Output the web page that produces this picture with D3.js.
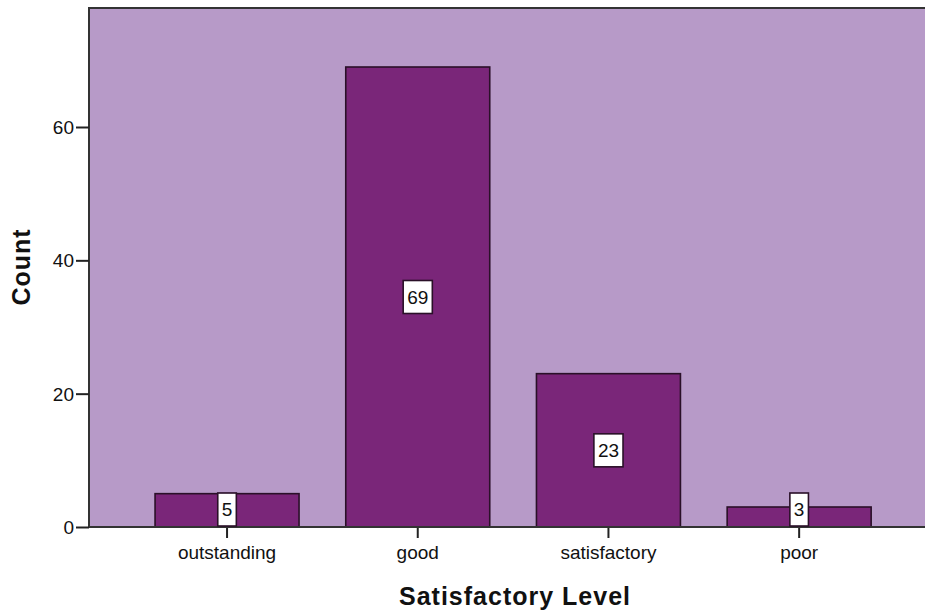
<!DOCTYPE html>
<html>
<head>
<meta charset="utf-8">
<script src="https://cdn.jsdelivr.net/npm/d3@7"></script>
<style>
  html, body { margin: 0; padding: 0; background: #fff; }
  svg { display: block; }
  text { font-family: Arial, "Liberation Sans", sans-serif; fill: #111; }
</style>
</head>
<body>
<svg id="chart" width="925" height="613"></svg>
<script>
// Satisfaction level counts
const categories = ["outstanding", "good", "satisfactory", "poor"];
const counts = [5, 69, 23, 3];
const yTicks = [0, 20, 40, 60];
const xTitle = "Satisfactory Level";
const yTitle = "Count";

const W = 925, H = 613;
const plot = { left: 89, top: 8, right: 940, bottom: 527 };
const yMax = 77.85;

const svg = d3.select("#chart");

const x = d3.scaleBand()
  .domain(categories)
  .range([131.7, 894.5])
  .paddingInner(0.245)
  .paddingOuter(0.1225);

const y = d3.scaleLinear()
  .domain([0, yMax])
  .range([plot.bottom, plot.top]);

// plot background
svg.append("rect")
  .attr("x", plot.left).attr("y", plot.top)
  .attr("width", plot.right - plot.left).attr("height", plot.bottom - plot.top)
  .attr("fill", "#b79ac8");

// bars
svg.append("g").selectAll("rect")
  .data(counts)
  .join("rect")
  .attr("x", (d, i) => x(categories[i]))
  .attr("y", d => y(d))
  .attr("width", x.bandwidth())
  .attr("height", d => y(0) - y(d))
  .attr("fill", "#7a2679")
  .attr("stroke", "#2a1028")
  .attr("stroke-width", 1.6);

// frame: top and left edges
svg.append("path")
  .attr("d", `M${plot.left},${plot.bottom}V${plot.top}H${W + 5}`)
  .attr("fill", "none")
  .attr("stroke", "#333")
  .attr("stroke-width", 2);

// y axis
const yAxis = d3.axisLeft(y).tickValues(yTicks).tickSize(13).tickPadding(2).tickFormat(d3.format("d"));
const gy = svg.append("g").attr("transform", `translate(${plot.left},0)`).call(yAxis);
gy.select(".domain").remove();
gy.selectAll(".tick line").attr("stroke", "#222").attr("stroke-width", 2);
gy.selectAll(".tick text").style("font-size", "19px").attr("fill", "#111").attr("dy", "0.35em");

// x axis
const xAxis = d3.axisBottom(x).tickSize(11).tickPadding(8);
const gx = svg.append("g").attr("transform", `translate(0,${plot.bottom})`).call(xAxis);
gx.select(".domain").remove();
gx.selectAll(".tick line").attr("stroke", "#222").attr("stroke-width", 2);
gx.selectAll(".tick text").style("font-size", "19px").attr("fill", "#111");

// baseline
svg.append("line")
  .attr("x1", plot.left).attr("x2", W + 5)
  .attr("y1", plot.bottom).attr("y2", plot.bottom)
  .attr("stroke", "#333").attr("stroke-width", 2);

// value labels
const labelH = 33;
const lg = svg.append("g");
counts.forEach((d, i) => {
  const cx = x(categories[i]) + x.bandwidth() / 2;
  let cy = (y(d) + y(0)) / 2;
  cy = Math.min(cy, plot.bottom - 1 - labelH / 2);
  const t = lg.append("text")
    .attr("x", cx).attr("y", cy)
    .attr("text-anchor", "middle")
    .attr("dy", "0.36em")
    .style("font-size", "19px")
    .text(d);
  const w = t.node().getComputedTextLength() + 8;
  lg.insert("rect", "text")
    .attr("x", cx - w / 2).attr("y", cy - labelH / 2)
    .attr("width", w).attr("height", labelH)
    .attr("fill", "#fff")
    .attr("stroke", "#2a1028")
    .attr("stroke-width", 1.6);
});

// axis titles
svg.append("text")
  .attr("x", 515).attr("y", 605)
  .attr("text-anchor", "middle")
  .style("font-size", "25px").style("font-weight", "bold").style("letter-spacing", "1px")
  .text(xTitle);

svg.append("text")
  .attr("transform", "translate(30,267) rotate(-90)")
  .attr("text-anchor", "middle")
  .style("font-size", "25px").style("font-weight", "bold").style("letter-spacing", "1px")
  .text(yTitle);
</script>
</body>
</html>
